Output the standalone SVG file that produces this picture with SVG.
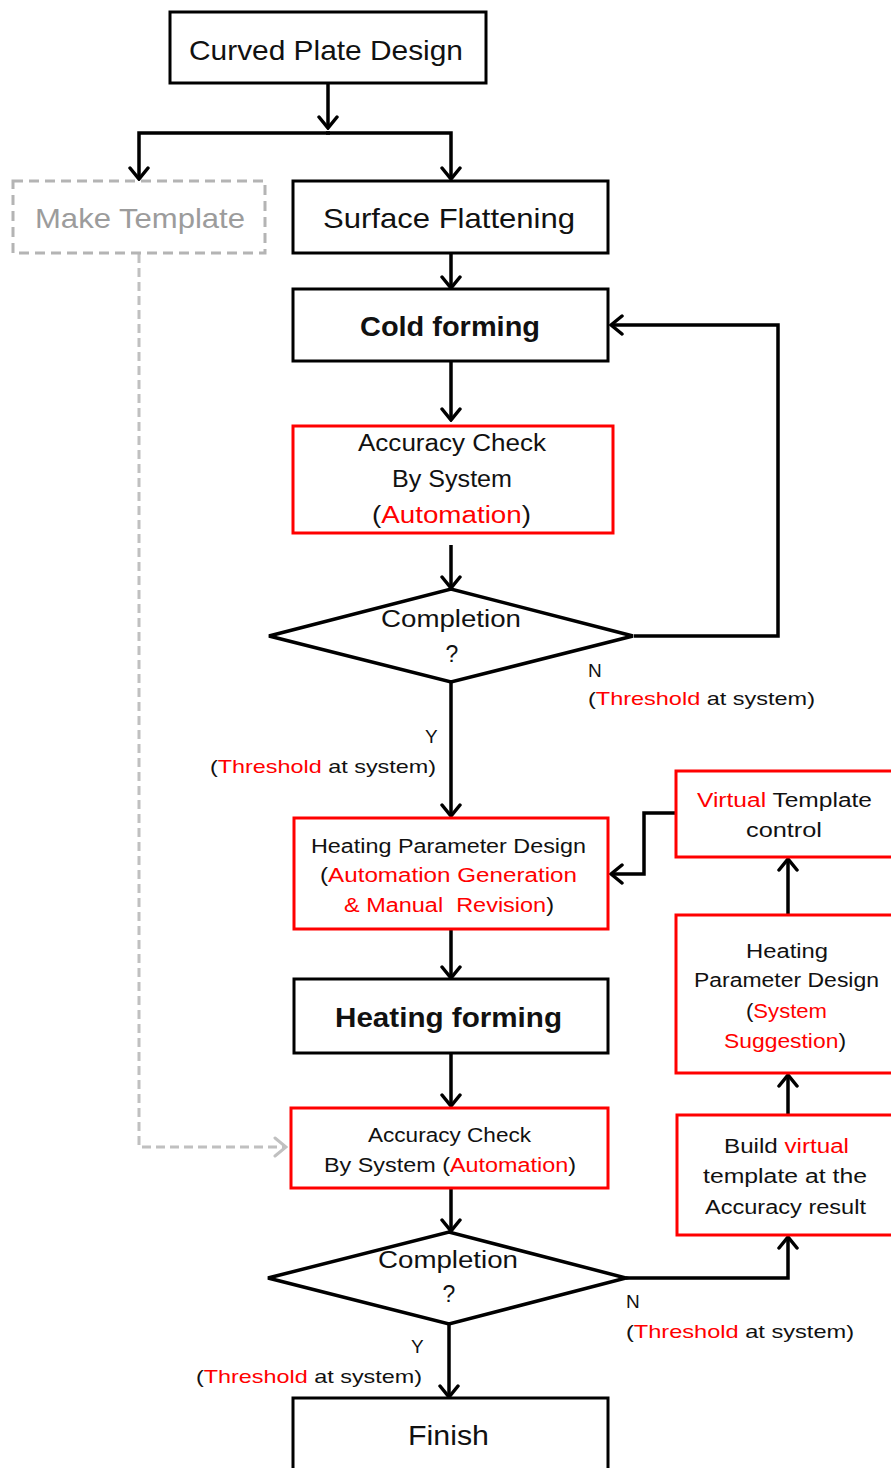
<svg xmlns="http://www.w3.org/2000/svg" width="891" height="1468" viewBox="0 0 891 1468">
  <style>
    .box { fill: #fff; stroke: #000; stroke-width: 3; }
    .rbox { fill: #fff; stroke: #ff0000; stroke-width: 3; }
    .gbox { fill: #fff; stroke: #b4b4b4; stroke-width: 3; stroke-dasharray: 10 6; }
    .dia { fill: #fff; stroke: #000; stroke-width: 3.5; stroke-linejoin: miter; }
    .t { font-family: "Liberation Sans", Arial, sans-serif; fill: #111; text-anchor: middle; }
    .l { font-family: "Liberation Sans", Arial, sans-serif; fill: #111; }
    .big { font-size: 28px; }
    .bold { font-weight: bold; }
    .mid { font-size: 23px; }
    .sm { font-size: 20px; }
    .xs { font-size: 19px; }
    .red { fill: #ff0000; }
    .pre { white-space: pre; }
    .edge { fill: none; stroke: #000; stroke-width: 3.5; }
    .dash { fill: none; stroke: #c0c0c0; stroke-width: 3; stroke-dasharray: 9 5; }
  </style>
  <defs>
    <marker id="ah" markerUnits="userSpaceOnUse" markerWidth="16" markerHeight="22" viewBox="0 0 16 22" refX="14" refY="11" orient="auto">
      <path d="M3,2 L14,11 L3,20" fill="none" stroke="#000" stroke-width="3.5" stroke-linecap="round" stroke-linejoin="miter"/>
    </marker>
    <marker id="ahg" markerUnits="userSpaceOnUse" markerWidth="16" markerHeight="22" viewBox="0 0 16 22" refX="14" refY="11" orient="auto">
      <path d="M3,2 L14,11 L3,20" fill="none" stroke="#c0c0c0" stroke-width="3" stroke-linecap="round"/>
    </marker>
  </defs>

  <rect width="891" height="1468" fill="#fff"/>

  <!-- connectors -->
  <g id="connectors">
    <path class="edge" d="M328,84 V128" marker-end="url(#ah)"/>
    <path class="edge" d="M330,133 H139 V179" marker-end="url(#ah)"/>
    <path class="edge" d="M326,133 H451 V179" marker-end="url(#ah)"/>
    <path class="edge" d="M451,253 V288" marker-end="url(#ah)"/>
    <path class="edge" d="M451,361 V420" marker-end="url(#ah)"/>
    <path class="edge" d="M451,545 V588" marker-end="url(#ah)"/>
    <path class="edge" d="M634,636 H778 V325 H611" marker-end="url(#ah)"/>
    <path class="edge" d="M451,682 V816" marker-end="url(#ah)"/>
    <path class="edge" d="M451,929 V978" marker-end="url(#ah)"/>
    <path class="edge" d="M451,1053 V1106" marker-end="url(#ah)"/>
    <path class="edge" d="M451,1188 V1231" marker-end="url(#ah)"/>
    <path class="edge" d="M449,1324 V1397" marker-end="url(#ah)"/>
    <path class="edge" d="M626,1278 H788 V1237" marker-end="url(#ah)"/>
    <path class="edge" d="M788,1115 V1075" marker-end="url(#ah)"/>
    <path class="edge" d="M788,915 V859" marker-end="url(#ah)"/>
    <path class="edge" d="M677,813 H644 V874 H611" marker-end="url(#ah)"/>
    <path class="dash" d="M139,254 V1147 H286" marker-end="url(#ahg)"/>
  </g>

  <g id="curved-plate-design">
    <rect class="box" x="170" y="12" width="316" height="71"/>
    <text class="t big" x="326" y="60" textLength="274" lengthAdjust="spacingAndGlyphs">Curved Plate Design</text>
  </g>

  <g id="make-template">
    <rect class="gbox" x="13" y="181" width="252" height="72"/>
    <text class="t big" x="140" y="228" style="fill:#9c9c9c" textLength="210" lengthAdjust="spacingAndGlyphs">Make Template</text>
  </g>

  <g id="surface-flattening">
    <rect class="box" x="293" y="181" width="315" height="72"/>
    <text class="t big" x="449" y="228" textLength="252" lengthAdjust="spacingAndGlyphs">Surface Flattening</text>
  </g>

  <g id="cold-forming">
    <rect class="box" x="293" y="289" width="315" height="72"/>
    <text class="t big bold" x="450" y="336" textLength="180" lengthAdjust="spacingAndGlyphs">Cold forming</text>
  </g>

  <g id="accuracy-check-1">
    <rect class="rbox" x="293" y="426" width="320" height="107"/>
    <text class="t mid" x="452" y="451" textLength="188" lengthAdjust="spacingAndGlyphs">Accuracy Check</text>
    <text class="t mid" x="452" y="487" textLength="120" lengthAdjust="spacingAndGlyphs">By System</text>
    <text class="t mid" x="451.5" y="523" textLength="159" lengthAdjust="spacingAndGlyphs">(<tspan class="red">Automation</tspan>)</text>
  </g>

  <g id="completion-1">
    <polygon class="dia" points="269,636 451,589 633,636 451,682"/>
    <text class="t mid" x="451" y="627" textLength="140" lengthAdjust="spacingAndGlyphs">Completion</text>
    <text class="t mid" x="452" y="662">?</text>
  </g>

  <g id="label-n-1">
    <text class="l xs" x="588" y="677">N</text>
    <text class="l xs" x="588" y="705" textLength="227" lengthAdjust="spacingAndGlyphs">(<tspan class="red">Threshold</tspan> at system)</text>
  </g>

  <g id="label-y-1">
    <text class="l xs" x="425" y="743">Y</text>
    <text class="l xs" x="210" y="773" textLength="226" lengthAdjust="spacingAndGlyphs">(<tspan class="red">Threshold</tspan> at system)</text>
  </g>

  <g id="heating-parameter-design">
    <rect class="rbox" x="294" y="818" width="314" height="111"/>
    <text class="t sm" x="448.5" y="853" textLength="275" lengthAdjust="spacingAndGlyphs">Heating Parameter Design</text>
    <text class="t sm" x="448.5" y="882" textLength="257" lengthAdjust="spacingAndGlyphs">(<tspan class="red">Automation Generation</tspan></text>
    <text class="t sm pre" x="449" y="912" textLength="210" lengthAdjust="spacingAndGlyphs"><tspan class="red">&amp; Manual  Revision</tspan>)</text>
  </g>

  <g id="heating-forming">
    <rect class="box" x="294" y="979" width="314" height="74"/>
    <text class="t big bold" x="448.5" y="1027" textLength="227" lengthAdjust="spacingAndGlyphs">Heating forming</text>
  </g>

  <g id="accuracy-check-2">
    <rect class="rbox" x="291" y="1108" width="317" height="80"/>
    <text class="t sm" x="449.5" y="1142" textLength="163" lengthAdjust="spacingAndGlyphs">Accuracy Check</text>
    <text class="t sm" x="450" y="1172" textLength="252" lengthAdjust="spacingAndGlyphs">By System (<tspan class="red">Automation</tspan>)</text>
  </g>

  <g id="completion-2">
    <polygon class="dia" points="268,1278 449,1232 626,1278 449,1324"/>
    <text class="t mid" x="448" y="1268" textLength="140" lengthAdjust="spacingAndGlyphs">Completion</text>
    <text class="t mid" x="449" y="1302">?</text>
  </g>

  <g id="label-n-2">
    <text class="l xs" x="626" y="1308">N</text>
    <text class="l xs" x="626" y="1338" textLength="228" lengthAdjust="spacingAndGlyphs">(<tspan class="red">Threshold</tspan> at system)</text>
  </g>

  <g id="label-y-2">
    <text class="l xs" x="411" y="1353">Y</text>
    <text class="l xs" x="196" y="1383" textLength="226" lengthAdjust="spacingAndGlyphs">(<tspan class="red">Threshold</tspan> at system)</text>
  </g>

  <g id="finish">
    <rect class="box" x="293" y="1398" width="315" height="85"/>
    <text class="t big" x="448.5" y="1445" textLength="81" lengthAdjust="spacingAndGlyphs">Finish</text>
  </g>

  <g id="virtual-template-control">
    <rect class="rbox" x="676" y="771" width="225" height="86"/>
    <text class="t sm" x="784.5" y="807" textLength="175" lengthAdjust="spacingAndGlyphs"><tspan class="red">Virtual</tspan> Template</text>
    <text class="t sm" x="784" y="837" textLength="76" lengthAdjust="spacingAndGlyphs">control</text>
  </g>

  <g id="heating-parameter-suggestion">
    <rect class="rbox" x="676" y="915" width="225" height="158"/>
    <text class="t sm" x="787" y="958" textLength="82" lengthAdjust="spacingAndGlyphs">Heating</text>
    <text class="t sm" x="786.5" y="987" textLength="185" lengthAdjust="spacingAndGlyphs">Parameter Design</text>
    <text class="t sm" x="786.5" y="1018" textLength="81" lengthAdjust="spacingAndGlyphs">(<tspan class="red">System</tspan></text>
    <text class="t sm" x="785" y="1048" textLength="122" lengthAdjust="spacingAndGlyphs"><tspan class="red">Suggestion</tspan>)</text>
  </g>

  <g id="build-virtual-template">
    <rect class="rbox" x="677" y="1115" width="225" height="120"/>
    <text class="t sm" x="786.5" y="1153" textLength="125" lengthAdjust="spacingAndGlyphs">Build <tspan class="red">virtual</tspan></text>
    <text class="t sm" x="785" y="1183" textLength="164" lengthAdjust="spacingAndGlyphs">template at the</text>
    <text class="t sm" x="785.5" y="1214" textLength="161" lengthAdjust="spacingAndGlyphs">Accuracy result</text>
  </g>
</svg>
